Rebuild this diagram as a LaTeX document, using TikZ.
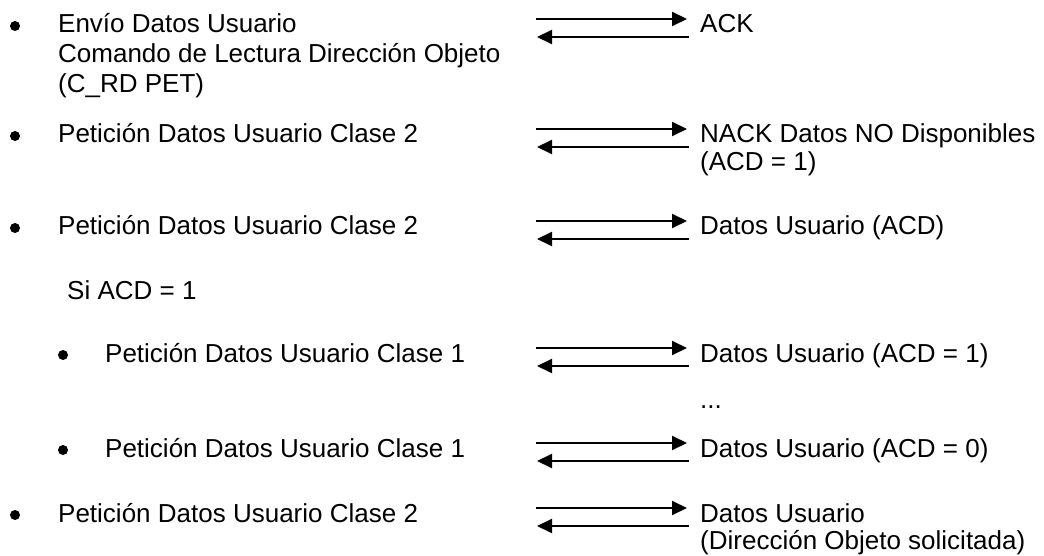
\documentclass[tikz,border=0pt]{standalone}
\usepackage{fontspec}
\setmainfont{Liberation Sans}
\usetikzlibrary{arrows.meta}
\begin{document}
\begin{tikzpicture}[x=1pt,y=-1pt,
  txt/.style={anchor=base west, inner sep=0pt, font=\fontsize{26}{30}\selectfont},
  bul/.style={circle, fill=black, inner sep=0pt, minimum size=10pt},
  msg/.style={-{Triangle[length=15pt,width=14pt]}, line width=2pt},
]
\useasboundingbox (0,0) rectangle (1044,556);

% ---------- row 1
\node[bul] (b1) at (15,26) {};
\node[txt] (t1a) at (58,33) {Envío Datos Usuario};
\node[txt] (t1b) at (58,63) {Comando de Lectura Dirección Objeto};
\node[txt] (t1c) at (58,93) {(C\_RD PET)};
\coordinate (p1a) at (536,19); \coordinate (q1a) at (687,19);
\coordinate (p1b) at (689,37); \coordinate (q1b) at (537,37);
\draw[msg] (p1a) -- (q1a);
\draw[msg] (p1b) -- (q1b);
\node[txt] (r1) at (700,33) {ACK};

% ---------- row 2
\node[bul] (b2) at (15,136) {};
\node[txt] (t2) at (58,143) {Petición Datos Usuario Clase 2};
\coordinate (p2a) at (536,129); \coordinate (q2a) at (687,129);
\coordinate (p2b) at (689,147); \coordinate (q2b) at (537,147);
\draw[msg] (p2a) -- (q2a);
\draw[msg] (p2b) -- (q2b);
\node[txt] (r2a) at (700,143) {NACK Datos NO Disponibles};
\node[txt] (r2b) at (700,171) {(ACD = 1)};

% ---------- row 3
\node[bul] (b3) at (15,228) {};
\node[txt] (t3) at (58,235) {Petición Datos Usuario Clase 2};
\coordinate (p3a) at (536,221); \coordinate (q3a) at (687,221);
\coordinate (p3b) at (689,239); \coordinate (q3b) at (537,239);
\draw[msg] (p3a) -- (q3a);
\draw[msg] (p3b) -- (q3b);
\node[txt] (r3) at (700,235) {Datos Usuario (ACD)};

% ---------- condition
\node[txt] (si) at (67,299) {Si ACD = 1};

% ---------- row 4
\node[bul] (b4) at (63,355) {};
\node[txt] (t4) at (105,362) {Petición Datos Usuario Clase 1};
\coordinate (p4a) at (536,348); \coordinate (q4a) at (687,348);
\coordinate (p4b) at (689,366); \coordinate (q4b) at (537,366);
\draw[msg] (p4a) -- (q4a);
\draw[msg] (p4b) -- (q4b);
\node[txt] (r4) at (700,362) {Datos Usuario (ACD = 1)};

\node[txt] (dots) at (700,408) {...};

% ---------- row 5
\node[bul] (b5) at (63,450) {};
\node[txt] (t5) at (105,457) {Petición Datos Usuario Clase 1};
\coordinate (p5a) at (536,443); \coordinate (q5a) at (687,443);
\coordinate (p5b) at (689,461); \coordinate (q5b) at (537,461);
\draw[msg] (p5a) -- (q5a);
\draw[msg] (p5b) -- (q5b);
\node[txt] (r5) at (700,457) {Datos Usuario (ACD = 0)};

% ---------- row 6
\node[bul] (b6) at (15,515) {};
\node[txt] (t6) at (58,522) {Petición Datos Usuario Clase 2};
\coordinate (p6a) at (536,508); \coordinate (q6a) at (687,508);
\coordinate (p6b) at (689,526); \coordinate (q6b) at (537,526);
\draw[msg] (p6a) -- (q6a);
\draw[msg] (p6b) -- (q6b);
\node[txt] (r6a) at (700,522) {Datos Usuario};
\node[txt] (r6b) at (700,549) {(Dirección Objeto solicitada)};
\end{tikzpicture}
\end{document}
